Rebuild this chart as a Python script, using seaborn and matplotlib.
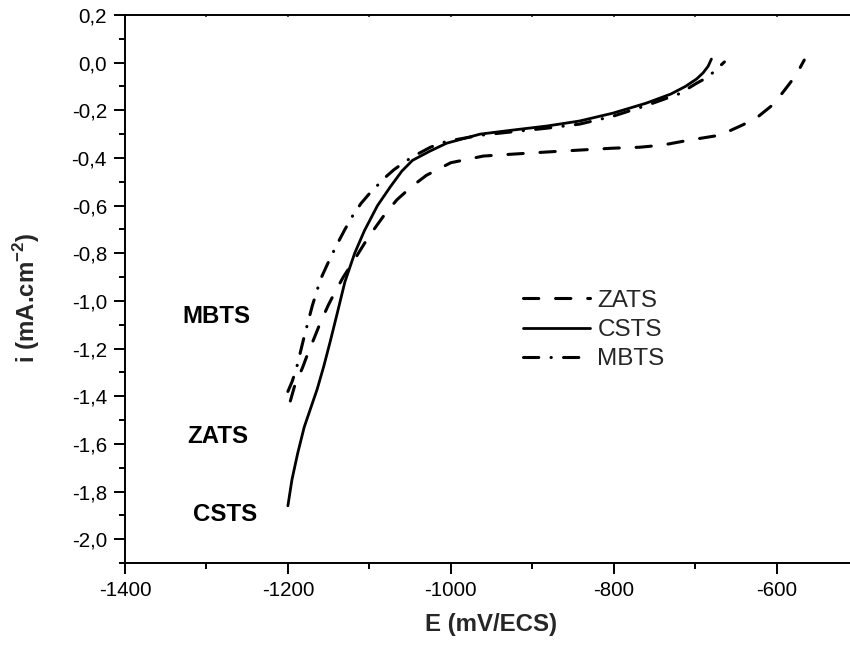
import matplotlib
matplotlib.use("Agg")
import matplotlib.pyplot as plt
import numpy as np
import pandas as pd
import seaborn as sns
from matplotlib.ticker import MultipleLocator, FuncFormatter

# Polarisation curves: potential E (mV/ECS) vs current density i (mA.cm-2)
e_zats = [-1197, -1192, -1182, -1175, -1167, -1160, -1150, -1142, -1132, -1121,
          -1112, -1102, -1091, -1080, -1066, -1048, -1030, -1000, -960, -924,
          -882, -842, -801, -768, -740, -707, -676, -660, -642, -625, -605,
          -593, -576, -566]
i_zats = [-1.42, -1.36, -1.28, -1.216, -1.15, -1.09, -1.015, -0.962, -0.90, -0.842,
          -0.792, -0.737, -0.684, -0.632, -0.575, -0.52, -0.473, -0.42, -0.392, -0.384,
          -0.375, -0.367, -0.359, -0.355, -0.346, -0.325, -0.308, -0.29, -0.262, -0.233,
          -0.178, -0.128, -0.052, 0.011]

e_csts = [-1200, -1195, -1188, -1180, -1172, -1164, -1156, -1148, -1140, -1130,
          -1118, -1106, -1090, -1074, -1060, -1047, -1026, -1005, -964, -924,
          -882, -842, -801, -760, -730, -712, -698, -690, -684, -680]
i_csts = [-1.86, -1.75, -1.64, -1.53, -1.45, -1.37, -1.275, -1.17, -1.06, -0.92,
          -0.80, -0.705, -0.60, -0.52, -0.455, -0.41, -0.372, -0.338, -0.30, -0.283,
          -0.266, -0.245, -0.212, -0.170, -0.132, -0.10, -0.068, -0.042, -0.015, 0.015]

e_mbts = [-1200, -1195, -1190, -1180, -1170, -1160, -1150, -1140, -1130, -1120,
          -1110, -1100, -1090, -1080, -1070, -1060, -1047, -1025, -1005, -964,
          -924, -882, -842, -801, -760, -719, -698, -684, -664]
i_mbts = [-1.38, -1.34, -1.29, -1.15, -1.02, -0.91, -0.835, -0.765, -0.70, -0.64,
          -0.59, -0.55, -0.515, -0.48, -0.45, -0.425, -0.395, -0.355, -0.33, -0.305,
          -0.29, -0.275, -0.258, -0.225, -0.18, -0.13, -0.086, -0.06, 0.003]

series = ["ZATS", "CSTS", "MBTS"]

# Side labels placed at the left of the curves
tag_names = ["MBTS", "ZATS", "CSTS"]
tag_e = [-1288, -1286, -1277]
tag_i = [-1.065, -1.569, -1.897]

sns.set_style("ticks")
plt.rcParams["font.family"] = ["Liberation Sans", "DejaVu Sans"]
plt.rcParams["axes.unicode_minus"] = False
plt.rcParams["mathtext.fontset"] = "custom"
plt.rcParams["mathtext.rm"] = "Liberation Sans"
plt.rcParams["mathtext.bf"] = "Liberation Sans:bold"
plt.rcParams["lines.dash_capstyle"] = "round"
plt.rcParams["lines.solid_capstyle"] = "round"
plt.rcParams["lines.solid_joinstyle"] = "round"

df = pd.concat([
    pd.DataFrame({"E": e_zats, "i": i_zats, "serie": "ZATS"}),
    pd.DataFrame({"E": e_csts, "i": i_csts, "serie": "CSTS"}),
    pd.DataFrame({"E": e_mbts, "i": i_mbts, "serie": "MBTS"}),
], ignore_index=True)

fig = plt.figure(figsize=(8.5, 6.45), dpi=100)
ax = fig.add_axes([125 / 850, 1 - 563 / 645, 733 / 850, 548 / 645])

dashes = {"ZATS": (5.0, 5.5), "CSTS": "", "MBTS": (5.0, 4.0, 0.1, 4.0)}
sns.lineplot(data=df, x="E", y="i", style="serie", style_order=series,
             dashes=dashes, color="black", linewidth=2.2, sort=False,
             estimator=None, ax=ax)
if ax.get_legend() is not None:
    ax.get_legend().remove()

lines = ax.lines[:3]
for ln in lines:
    ln.set_color("black")
lines[1].set_linewidth(2.0)

ax.set_xlim(-1400, -500)
ax.set_ylim(-2.1, 0.2)

ax.xaxis.set_major_locator(MultipleLocator(200))
ax.xaxis.set_minor_locator(MultipleLocator(100))
ax.yaxis.set_major_locator(MultipleLocator(0.2))
ax.yaxis.set_minor_locator(MultipleLocator(0.1))
ax.xaxis.set_major_formatter(FuncFormatter(lambda v, _: f"{int(round(v))}"))


def comma_fmt(v, _):
    v = round(v, 1)
    if v == 0:
        v = 0.0
    return f"{v:.1f}".replace(".", ",")


ax.yaxis.set_major_formatter(FuncFormatter(comma_fmt))

ax.tick_params(axis="both", which="major", direction="out", length=8, width=1.4,
               labelsize=14.8, color="black", labelcolor="black", pad=5)
ax.tick_params(axis="both", which="minor", direction="out", length=4.5, width=1.4,
               color="black")
# barely visible marks along the top frame
ax.secondary_xaxis("top").tick_params(which="both", direction="in", length=1.5,
                                       width=1.2, labeltop=False)
for s in ax.child_axes:
    s.spines["top"].set_visible(False)
    s.xaxis.set_minor_locator(MultipleLocator(100))
    s.xaxis.set_major_locator(MultipleLocator(200))

for side in ["left", "bottom", "top", "right"]:
    ax.spines[side].set_linewidth(1.4)
    ax.spines[side].set_color("black")

ax.set_xlabel("E (mV/ECS)", fontsize=17.3, fontweight="bold")
ax.set_ylabel(r"i (mA.cm$^{\mathbf{-2}}$)", fontsize=17.3, fontweight="bold")
ax.xaxis.set_label_coords(0.5, -0.092)
ax.yaxis.set_label_coords(-0.113, 0.484)

for name, xe, yi in zip(tag_names, tag_e, tag_i):
    ax.text(xe, yi, name, fontsize=17.3, fontweight="bold", ha="center",
            va="center", color="black")

ax.legend(lines, series, loc="center left", frameon=False,
          bbox_to_anchor=(523 / 850, 1 - 330 / 645), bbox_transform=fig.transFigure,
          fontsize=17.5, handlelength=2.76, handletextpad=0.3, labelspacing=0.3,
          borderpad=0, borderaxespad=0)

fig.savefig("out.png", dpi=100)
